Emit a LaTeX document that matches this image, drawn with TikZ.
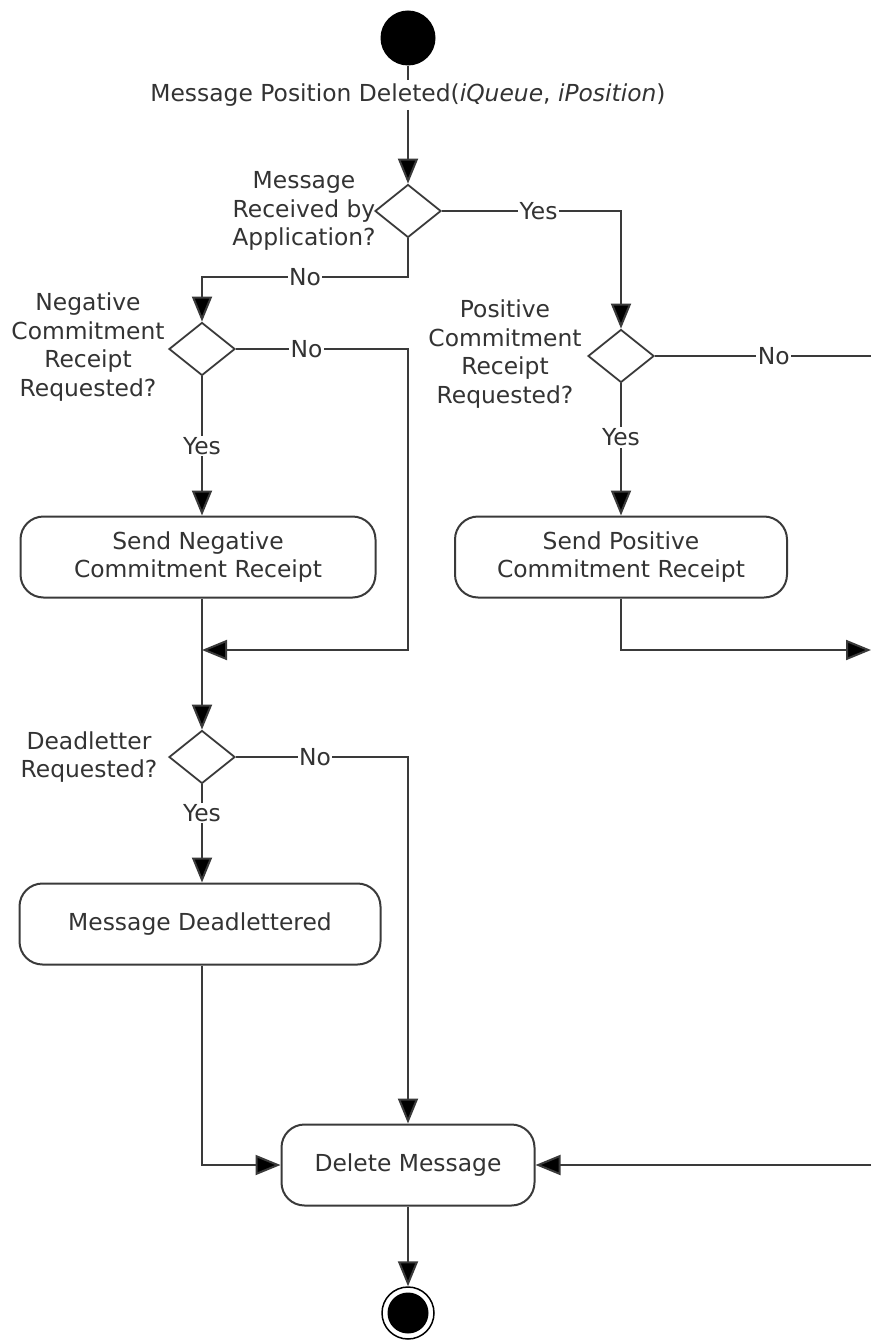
\documentclass[tikz,border=0pt]{standalone}
\usepackage{fontspec}
\setmainfont{DejaVu Sans}
\usetikzlibrary{shapes.geometric,arrows.meta}
\definecolor{ink}{HTML}{333333}
\definecolor{wire}{HTML}{3A3A3A}
\begin{document}
\begin{tikzpicture}[x=1pt,y=-1pt,
  every node/.style={font=\fontsize{23.4}{28.5}\selectfont, text=ink},
  ln/.style={draw=wire, line width=2pt},
  arr/.style={ln, -{Triangle[length=25pt,width=20pt,fill=black]}},
  dec/.style={diamond, draw=wire, line width=1.8pt, minimum width=66pt, minimum height=53pt, inner sep=0pt, fill=white},
  act/.style={rectangle, rounded corners=23pt, draw=wire, line width=2pt, minimum height=81pt, align=center},
  lbl/.style={fill=white, inner sep=1.5pt},
  qlab/.style={align=center, inner sep=0pt}]
\useasboundingbox (0,0) rectangle (871,1340);

\node[circle, fill=black, minimum size=55pt, inner sep=0pt] (start) at (408,38) {};
\node (evt) at (408,95) {Message Position Deleted(\textit{iQueue}, \textit{iPosition})};

\node[dec] (d1) at (408,211) {};
\node[qlab] (q1) at (304,211) {Message\\Received by\\Application?};
\node[dec] (d2) at (621,356) {};
\node[qlab] (q2) at (505,354) {Positive\\Commitment\\Receipt\\Requested?};
\node[dec] (d3) at (202,349) {};
\node[qlab] (q3) at (88,347) {Negative\\Commitment\\Receipt\\Requested?};
\node[act, minimum width=355pt] (bn) at (198,557) {Send Negative\\Commitment Receipt};
\node[act, minimum width=332pt] (bp) at (621,557) {Send Positive\\Commitment Receipt};
\node[dec] (d4) at (202,757) {};
\node[qlab] (q4) at (89,757) {Deadletter\\Requested?};
\node[act, minimum width=361pt] (bd) at (200,924) {Message Deadlettered};
\node[act, minimum width=253pt] (dm) at (408,1165) {Delete Message};
\node[circle, draw=black, line width=1.5pt, minimum size=52pt, inner sep=0pt] (end) at (408,1313) {};
\node[circle, fill=black, minimum size=41pt, inner sep=0pt] (endin) at (end) {};

\coordinate (c1) at (408,277);
\coordinate (c2) at (408,349);
\coordinate (j1) at (202,650);
\coordinate (c3) at (408,650);
\coordinate (r1) at (871,356);
\coordinate (r2) at (871,650);
\coordinate (r3) at (871,1165);

\draw[ln] (start) -- (evt);
\draw[arr] (evt) -- (d1);
\draw[arr] (d1.east) -| node[lbl,pos=0.27]{Yes} (d2.north);
\draw[arr] (d1.south) -- (c1) -| node[lbl,pos=0.25]{No} (d3.north);
\draw[arr] (d3.east) -- node[lbl,pos=0.41]{No} (c2) -- (c3) -- (j1);
\draw[arr] (d3.south) -- node[lbl,pos=0.5]{Yes} (d3.south |- bn.north);
\draw[arr] (bn.south -| d3.south) -- (d4.north);
\draw[ln] (d2.east) -- node[lbl,pos=0.55]{No} (r1);
\draw[arr] (d2.south) -- node[lbl,pos=0.41]{Yes} (bp.north);
\draw[arr] (bp.south) |- (r2);
\draw[arr] (d4.east) -| node[lbl,pos=0.23]{No} (dm.north);
\draw[arr] (d4.south) -- node[lbl,pos=0.29]{Yes} (d4.south |- bd.north);
\draw[arr] (bd.south -| d4.south) |- (dm.west);
\draw[arr] (r3) -- (dm.east);
\draw[arr] (dm) -- (end);
\end{tikzpicture}
\end{document}
